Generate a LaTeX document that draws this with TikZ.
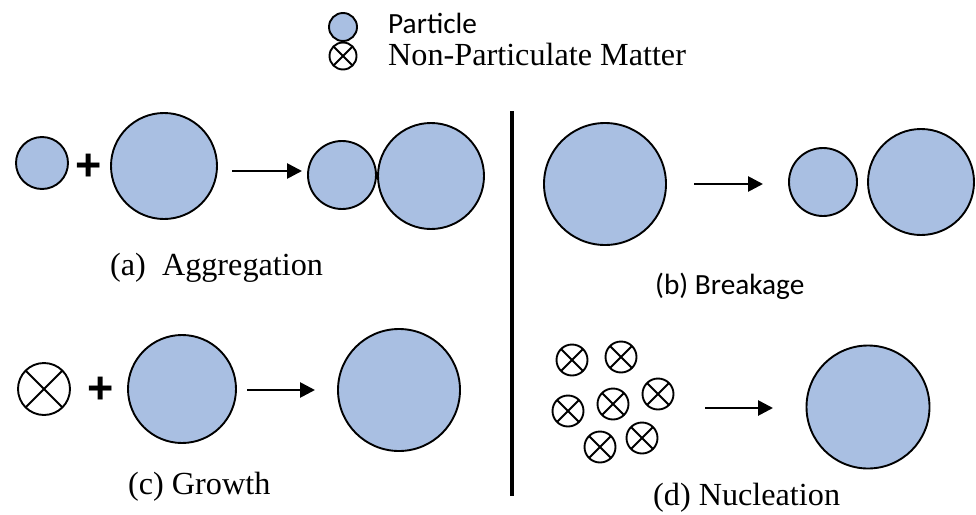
\documentclass[tikz,border=0pt]{standalone}
\usepackage{fontspec}
\setmainfont{Liberation Serif}
\newfontfamily\calib{Carlito}
\newfontfamily\arialfam{Liberation Sans}
\usetikzlibrary{arrows.meta}
\definecolor{pblue}{RGB}{169,191,226}
\begin{document}
\begin{tikzpicture}[x=1pt,y=-1pt,
  particle/.style={circle, draw=black, line width=1.9pt, fill=pblue, inner sep=0pt, minimum size=#1},
  nonp/.style={circle, draw=black, line width=1.9pt, fill=white, inner sep=0pt, minimum size=#1,
    path picture={\draw[line width=1.9pt] (path picture bounding box.north west) -- (path picture bounding box.south east)
      (path picture bounding box.north east) -- (path picture bounding box.south west);}},
  reaction/.style={line width=2.7pt, -{Triangle[length=15pt,width=15pt]}},
  serlab/.style={anchor=base west, inner sep=0pt, font=\fontsize{32.2}{36}\selectfont},
  sanslab/.style={anchor=base west, inner sep=0pt, font=\calib\fontsize{29.3}{34}\selectfont},
  plussign/.style={inner sep=0pt, font=\arialfam\bfseries\fontsize{45}{48}\selectfont}
]
\useasboundingbox (0,0) rectangle (976,514);

% legend
\node[particle=28pt] (legp) at (343,27) {};
\node[sanslab] (legpt) at (388,33) {Particle};
\node[nonp=27pt] (legn) at (343,56) {};
\node[serlab] (legnt) at (388,65) {Non-Particulate Matter};

% divider
\draw[line width=4pt] (512,111) -- (512,496);

% (a) aggregation
\node[particle=52pt] (a1) at (42,163) {};
\node[plussign] (aplus) at (89,167) {+};
\node[particle=106pt] (a2) at (164,166) {};
\coordinate (as) at (232,171);
\coordinate (ae) at (302,171);
\draw[reaction] (as) -- (ae);
\node[particle=68pt] (a3) at (342,175) {};
\node[particle=106pt] (a4) at (431,176) {};
\node[serlab] (alab) at (110,275) {(a)\ \ Aggregation};

% (b) breakage
\node[particle=122pt] (b1) at (605,184) {};
\coordinate (bs) at (694,184);
\coordinate (be) at (763,184);
\draw[reaction] (bs) -- (be);
\node[particle=68pt] (b2) at (823,182) {};
\node[particle=106pt] (b3) at (921,182) {};
\node[sanslab] (blab) at (655,294) {(b) Breakage};

% (c) growth
\node[nonp=52pt] (c1) at (44,389) {};
\node[plussign] (cplus) at (101,390) {+};
\node[particle=108pt] (c2) at (182,389) {};
\coordinate (cs) at (247,390);
\coordinate (ce) at (315,390);
\draw[reaction] (cs) -- (ce);
\node[particle=122pt] (c3) at (399,390) {};
\node[serlab] (clab) at (128,494) {(c) Growth};

% (d) nucleation
\node[nonp=31pt] (d1) at (572,360) {};
\node[nonp=31pt] (d2) at (621,357) {};
\node[nonp=31pt] (d3) at (568,411) {};
\node[nonp=31pt] (d4) at (613,404) {};
\node[nonp=31pt] (d5) at (658,394) {};
\node[nonp=31pt] (d6) at (600,447) {};
\node[nonp=31pt] (d7) at (642,438) {};
\coordinate (ds) at (705,408);
\coordinate (de) at (773,408);
\draw[reaction] (ds) -- (de);
\node[particle=123pt] (d8) at (868,407) {};
\node[serlab] (dlab) at (653,505) {(d) Nucleation};
\end{tikzpicture}
\end{document}
